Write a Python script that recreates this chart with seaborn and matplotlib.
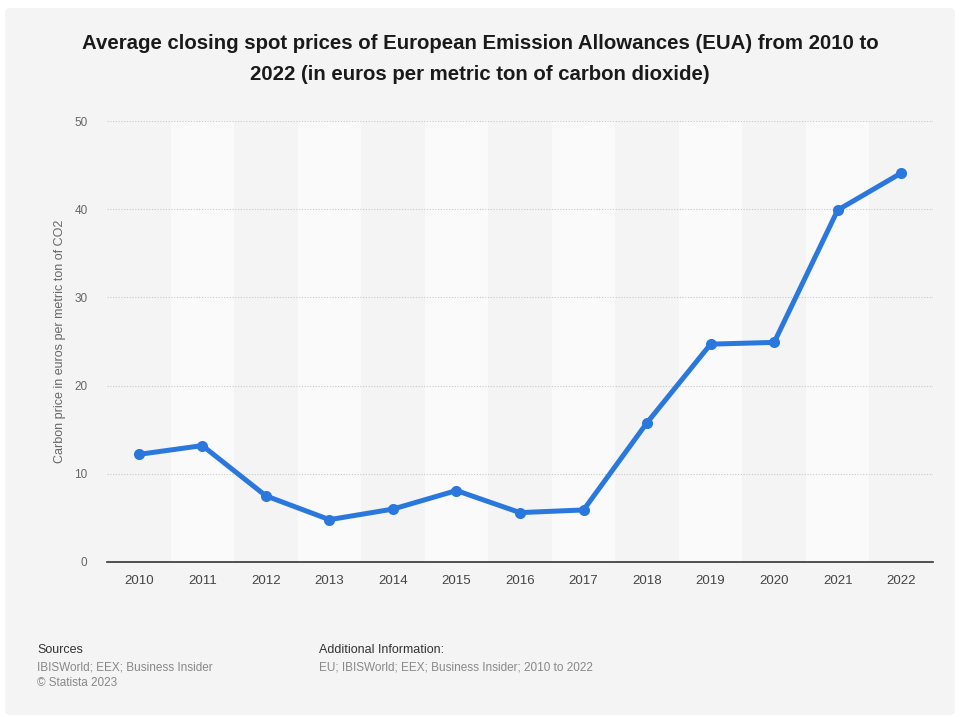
import matplotlib
matplotlib.use("Agg")
import matplotlib.pyplot as plt
import seaborn as sns
import pandas as pd
from matplotlib.patches import FancyBboxPatch

years = ["2010", "2011", "2012", "2013", "2014", "2015", "2016",
         "2017", "2018", "2019", "2020", "2021", "2022"]
prices = [12.2, 13.2, 7.5, 4.8, 6.0, 8.1, 5.6, 5.9, 15.8, 24.7, 24.9, 39.9, 44.1]
yticks = [0, 10, 20, 30, 40, 50]

title = ("Average closing spot prices of European Emission Allowances (EUA) from 2010 to\n"
         "2022 (in euros per metric ton of carbon dioxide)")
ylabel = "Carbon price in euros per metric ton of CO2"

df = pd.DataFrame({"year": years, "price": prices})
df["pos"] = range(len(years))

sns.set_theme(style="white")
plt.rcParams["font.family"] = ["Liberation Sans", "DejaVu Sans"]

BG = "#f4f4f4"
fig = plt.figure(figsize=(9.6, 7.17), dpi=100, facecolor="white")
bg = FancyBboxPatch((5 / 960, 2 / 717), 950 / 960, 707 / 717,
                    boxstyle="round,pad=0,rounding_size=0.006",
                    transform=fig.transFigure, facecolor=BG,
                    edgecolor="none", zorder=-10)
fig.patches.append(bg)
ax = fig.add_axes([107 / 960, 1 - 562 / 717, (933 - 107) / 960, (562 - 121) / 717])
ax.set_facecolor(BG)

for i in range(len(years)):
    if i % 2 == 1:
        ax.axvspan(i - 0.5, i + 0.5, color="#fafafa", zorder=0, lw=0)

for t in yticks[1:]:
    ax.axhline(t, color="#c8c8c8", lw=0.8, ls=(0, (1, 1.5)), zorder=1)

sns.lineplot(data=df, x="pos", y="price", ax=ax, color="#2a78de",
             lw=3.6, marker="o", markersize=8, markeredgewidth=0, zorder=3)

ax.set_xlim(-0.5, len(years) - 0.5)
ax.set_ylim(0, 50)
ax.set_xticks(df["pos"])
ax.set_xticklabels(years)
ax.set_yticks(yticks)
ax.tick_params(axis="x", colors="#444444", labelsize=9.5, length=0, pad=9)
ax.tick_params(axis="y", colors="#666666", labelsize=8.5, length=0, pad=14)
ax.set_xlabel("")
ax.set_ylabel(ylabel, color="#666666", fontsize=9, labelpad=6)
for s in ["top", "right", "left"]:
    ax.spines[s].set_visible(False)
ax.spines["bottom"].set_color("#333333")
ax.spines["bottom"].set_linewidth(1.2)
ax.spines["bottom"].set_zorder(4)

fig.text(0.5, 1 - 59 / 717, title, ha="center", va="center", fontsize=14.7,
         fontweight="bold", color="#1a1a1a", linespacing=1.75)

fig.text(37 / 960, 1 - 650 / 717, "Sources", fontsize=9, color="#333333", va="center")
fig.text(37 / 960, 1 - 667 / 717, "IBISWorld; EEX; Business Insider", fontsize=8.5,
         color="#888888", va="center")
fig.text(37 / 960, 1 - 683 / 717, "© Statista 2023", fontsize=8.5, color="#888888", va="center")
fig.text(319 / 960, 1 - 650 / 717, "Additional Information:", fontsize=9, color="#333333", va="center")
fig.text(319 / 960, 1 - 667 / 717, "EU; IBISWorld; EEX; Business Insider; 2010 to 2022",
         fontsize=8.5, color="#888888", va="center")

fig.savefig("out.png", dpi=100, facecolor="white")
